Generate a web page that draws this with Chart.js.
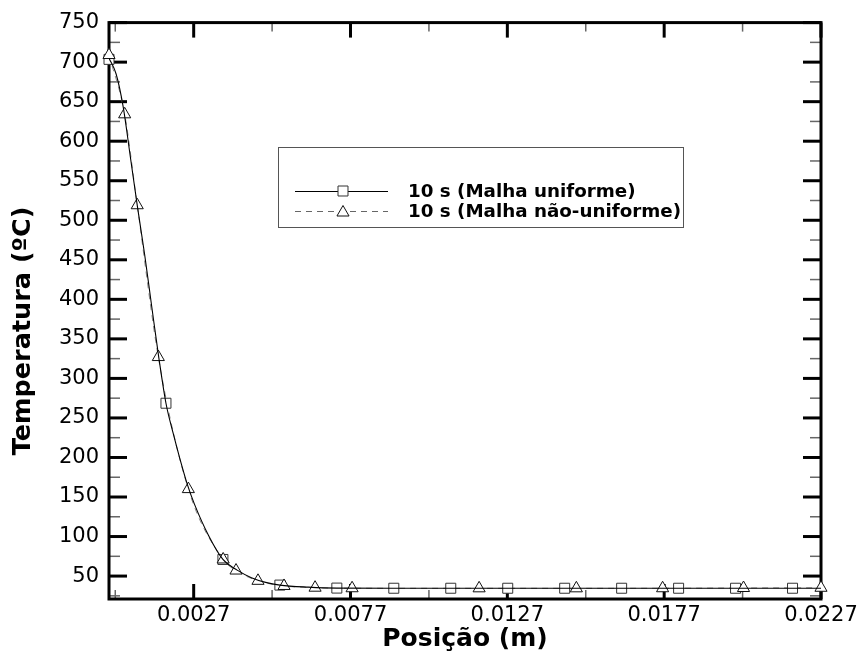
<!DOCTYPE html>
<html><head><meta charset="utf-8">
<script src="https://cdn.jsdelivr.net/npm/chart.js@4.4.0/dist/chart.umd.min.js"></script>
<style>html,body{margin:0;padding:0;background:#fff}canvas{display:block}</style>
</head><body>
<canvas id="c" width="862" height="657"></canvas>
<script>
// ---- data ----
const uniformLineX = [0, 0.000227, 0.000454, 0.000681, 0.000908, 0.001135, 0.001362, 0.001589, 0.001816, 0.002043, 0.00227, 0.002497, 0.002724, 0.003178, 0.003632, 0.004086, 0.00454, 0.004994, 0.005448, 0.006356, 0.007264, 0.00908, 0.010896, 0.012712, 0.014528, 0.016344, 0.01816, 0.019976, 0.021792, 0.0227];
const uniformLineY = [705, 685, 643, 580, 517, 457, 391, 326, 268.6, 231, 197, 166, 141, 101, 71, 57.5, 48, 42, 38.6, 36, 34.8, 34.6, 34.6, 34.6, 34.6, 34.6, 34.6, 34.6, 34.6, 34.6];
const uniformMarkX = [0, 0.001816, 0.003632, 0.005448, 0.007264, 0.00908, 0.010896, 0.012712, 0.014528, 0.016344, 0.01816, 0.019976, 0.021792];
const uniformMarkY = [703.5, 268.6, 71, 38.6, 34.8, 34.6, 34.6, 34.6, 34.6, 34.6, 34.6, 34.6, 34.6];
const nonUniformX = [0, 0.0005, 0.0009, 0.001573, 0.00253, 0.00364, 0.00405, 0.00475, 0.00558, 0.00657, 0.00775, 0.0118, 0.0149, 0.01765, 0.02023, 0.0227];
const nonUniformY = [709, 634, 519, 327, 160, 71, 57, 44, 37.5, 35.3, 34.6, 34.5, 34.5, 34.6, 34.9, 35.2];
const xMajorTicks = [0.0027, 0.0077, 0.0127, 0.0177, 0.0227];
const xMinorTicks = [0.0002, 0.0052, 0.0102, 0.0152, 0.0202];
const yMajorTicks = [50, 100, 150, 200, 250, 300, 350, 400, 450, 500, 550, 600, 650, 700, 750];
const yMinorTicks = [25, 75, 125, 175, 225, 275, 325, 375, 425, 475, 525, 575, 625, 675, 725];
const legendLabels = ['10 s (Malha uniforme)', '10 s (Malha não-uniforme)'];
const xTitle = 'Posição (m)';
const yTitle = 'Temperatura (ºC)';

const FONT = "'DejaVu Sans', 'Liberation Sans', sans-serif";
const pts = (xs, ys) => xs.map((v, i) => ({x: v, y: ys[i]}));

const sqStyle = {pointStyle: 'rect', pointRadius: 7.07, borderColor: '#333', backgroundColor: '#fff', pointBorderWidth: 1};
const triStyle = {pointStyle: 'triangle', pointRadius: 7, borderColor: '#111', backgroundColor: '#fff', pointBorderWidth: 1};

function drawMarker(ctx, style, cx, cy) {
  ctx.save();
  ctx.lineWidth = 1; ctx.strokeStyle = style.borderColor; ctx.fillStyle = style.backgroundColor;
  ctx.beginPath();
  const r = style.pointRadius;
  if (style.pointStyle === 'rect') {
    const s = Math.SQRT1_2 * r;
    ctx.rect(cx - s, cy - s, 2 * s, 2 * s);
  } else {
    let rad = 0;
    ctx.moveTo(cx + Math.sin(rad) * r, cy - Math.cos(rad) * r);
    rad += 2 * Math.PI / 3; ctx.lineTo(cx + Math.sin(rad) * r, cy - Math.cos(rad) * r);
    rad += 2 * Math.PI / 3; ctx.lineTo(cx + Math.sin(rad) * r, cy - Math.cos(rad) * r);
    ctx.closePath();
  }
  ctx.fill(); ctx.stroke();
  ctx.restore();
}

const frameTicks = {
  id: 'frameTicks',
  beforeDatasetsDraw(chart) {
    const {ctx, chartArea: a, scales: {x, y}} = chart;
    ctx.save();
    ctx.lineCap = 'butt';
    const seg = (x1, y1, x2, y2) => { ctx.beginPath(); ctx.moveTo(x1, y1); ctx.lineTo(x2, y2); ctx.stroke(); };
    ctx.strokeStyle = '#666'; ctx.lineWidth = 1.5;
    xMinorTicks.forEach(v => { const p = x.getPixelForValue(v); seg(p, a.bottom, p, a.bottom - 9); seg(p, a.top, p, a.top + 9); });
    yMinorTicks.forEach(v => { const p = y.getPixelForValue(v); seg(a.left, p, a.left + 11, p); seg(a.right, p, a.right - 11, p); });
    ctx.strokeStyle = '#000'; ctx.lineWidth = 3;
    xMajorTicks.forEach(v => { const p = x.getPixelForValue(v); seg(p, a.bottom, p, a.bottom - 15); seg(p, a.top, p, a.top + 15); });
    yMajorTicks.forEach(v => { const p = y.getPixelForValue(v); seg(a.left, p, a.left + 18, p); seg(a.right, p, a.right - 18, p); });
    ctx.strokeRect(a.left, a.top, a.right - a.left, a.bottom - a.top);
    ctx.restore();
  },
  afterDraw(chart) {
    const ctx = chart.ctx;
    ctx.save();
    // y title
    ctx.translate(23, 331);
    ctx.rotate(-Math.PI / 2);
    ctx.font = 'bold 25.5px ' + FONT;
    ctx.fillStyle = '#000'; ctx.textAlign = 'center'; ctx.textBaseline = 'middle';
    ctx.fillText(yTitle, 0, 0);
    ctx.restore();
    // legend
    ctx.save();
    ctx.fillStyle = '#fff'; ctx.fillRect(278, 147, 405, 80);
    ctx.strokeStyle = '#555'; ctx.lineWidth = 1; ctx.strokeRect(278.5, 147.5, 405, 80);
    const rows = [191, 211];
    ctx.strokeStyle = '#000'; ctx.setLineDash([]);
    ctx.beginPath(); ctx.moveTo(295, rows[0] + 0.5); ctx.lineTo(388, rows[0] + 0.5); ctx.stroke();
    ctx.strokeStyle = '#666'; ctx.setLineDash([6, 5]);
    ctx.beginPath(); ctx.moveTo(295, rows[1] + 0.5); ctx.lineTo(388, rows[1] + 0.5); ctx.stroke();
    ctx.setLineDash([]);
    drawMarker(ctx, sqStyle, 343, rows[0]);
    drawMarker(ctx, triStyle, 343, rows[1] + 1.5);
    ctx.fillStyle = '#000'; ctx.font = 'bold 18.3px ' + FONT; ctx.textAlign = 'left'; ctx.textBaseline = 'middle';
    ctx.fillText(legendLabels[0], 408, rows[0] + 1);
    ctx.fillText(legendLabels[1], 408, rows[1] + 1);
    ctx.restore();
  }
};

new Chart(document.getElementById('c'), {
  type: 'line',
  data: {
    datasets: [
      {label: legendLabels[0], data: pts(uniformLineX, uniformLineY), borderColor: '#000', borderWidth: 1.1, pointRadius: 0, cubicInterpolationMode: 'monotone', order: 0, fill: false},
      Object.assign({label: legendLabels[1] + ' markers', data: pts(nonUniformX, nonUniformY), showLine: false, order: 1, clip: false}, triStyle),
      Object.assign({label: legendLabels[0] + ' markers', data: pts(uniformMarkX, uniformMarkY), showLine: false, order: 2, clip: false}, sqStyle),
      {label: legendLabels[1], data: pts(nonUniformX, nonUniformY), borderColor: '#888', borderWidth: 1, borderDash: [6, 5], pointRadius: 0, cubicInterpolationMode: 'monotone', order: 3, fill: false}
    ]
  },
  options: {
    responsive: false, animation: false, events: [],
    layout: {padding: {top: 18, right: 41, left: 0, bottom: 0}},
    plugins: {legend: {display: false}, tooltip: {enabled: false}},
    scales: {
      x: {
        type: 'linear', min: 0, max: 0.0227,
        afterBuildTicks: s => { s.ticks = xMajorTicks.map(v => ({value: v})); },
        afterFit: s => { s.height = 58; },
        grid: {display: false, drawTicks: false}, border: {display: false},
        ticks: {padding: 4, color: '#000', font: {family: FONT, size: 21}, maxRotation: 0, autoSkip: false, callback: v => v.toFixed(4)},
        title: {display: true, text: xTitle, color: '#000', font: {family: FONT, size: 25, weight: 'bold'}, padding: {top: 0, bottom: 3}}
      },
      y: {
        type: 'linear', min: 21, max: 750,
        afterBuildTicks: s => { s.ticks = yMajorTicks.map(v => ({value: v})); },
        afterFit: s => { s.width = 109; },
        grid: {display: false, drawTicks: false}, border: {display: false},
        ticks: {padding: 10, color: '#000', font: {family: FONT, size: 21}, autoSkip: false, callback: v => String(v)}
      }
    }
  },
  plugins: [frameTicks]
});
</script>
</body></html>
